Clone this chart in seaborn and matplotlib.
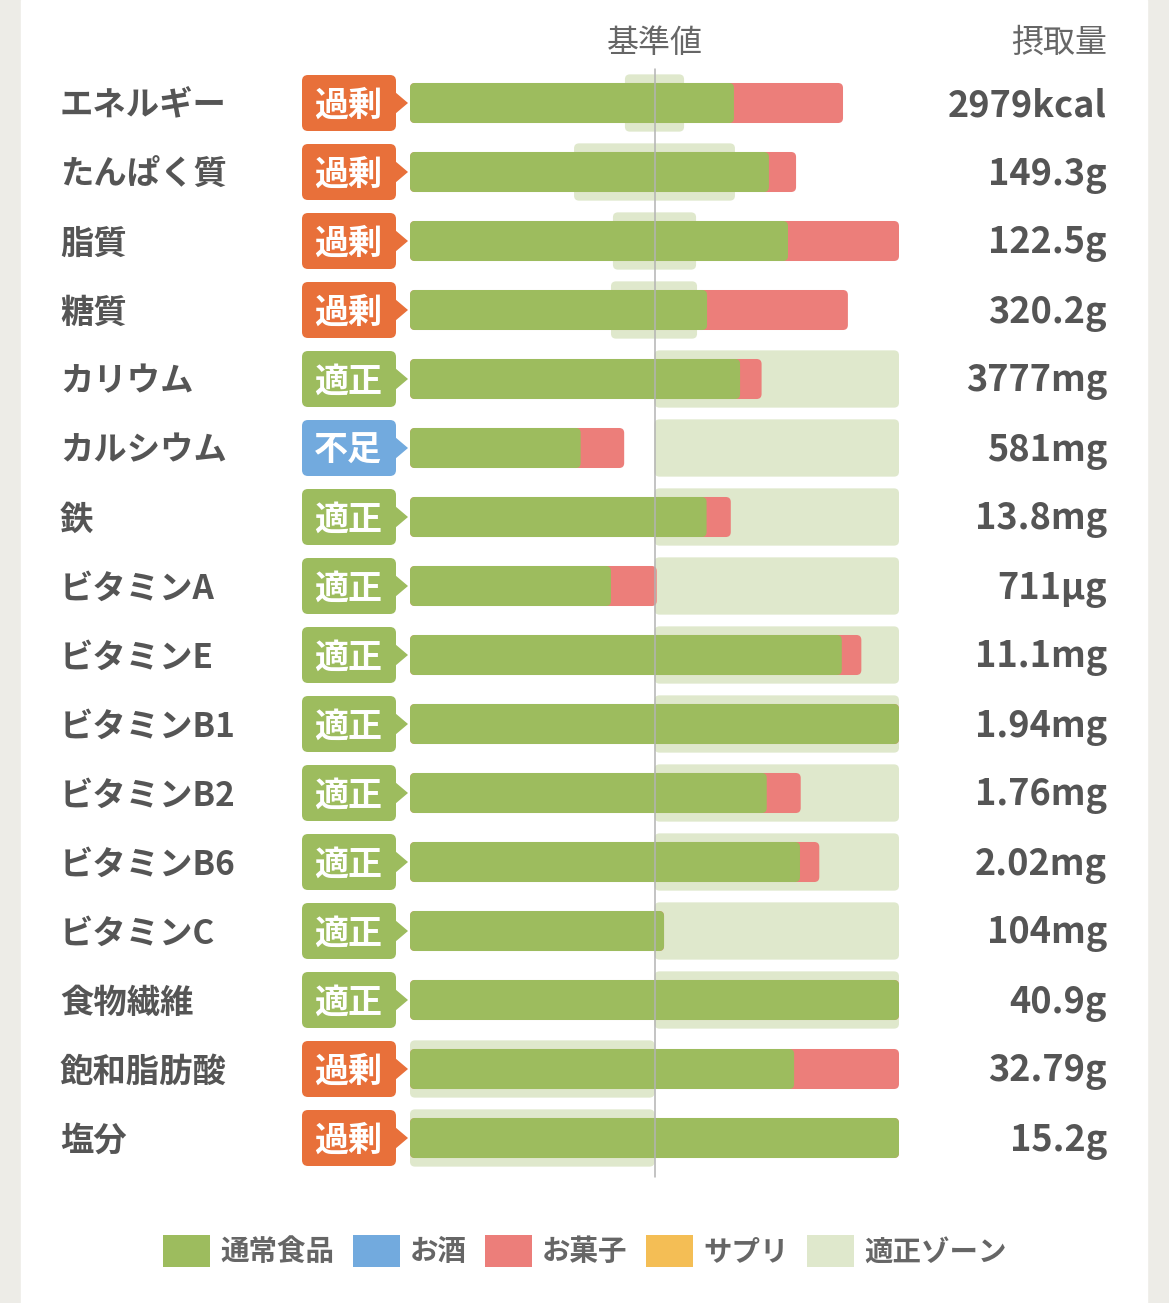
import numpy as np
import seaborn as sns
import matplotlib.pyplot as plt
from matplotlib.patches import FancyBboxPatch, Rectangle, Polygon, Patch
from matplotlib import transforms

# データ（基準値=100%、グラフは200%で頭打ち）
nutrients = ['エネルギー', 'たんぱく質', '脂質', '糖質', 'カリウム', 'カルシウム', '鉄',
             'ビタミンA', 'ビタミンE', 'ビタミンB1', 'ビタミンB2', 'ビタミンB6',
             'ビタミンC', '食物繊維', '飽和脂肪酸', '塩分']
status = ['過剰', '過剰', '過剰', '過剰', '適正', '不足', '適正', '適正', '適正',
          '適正', '適正', '適正', '適正', '適正', '過剰', '過剰']
intake = ['2979kcal', '149.3g', '122.5g', '320.2g', '3777mg', '581mg', '13.8mg',
          '711µg', '11.1mg', '1.94mg', '1.76mg', '2.02mg', '104mg', '40.9g',
          '32.79g', '15.2g']
food = [132.5, 146.8, 154.6, 121.5, 135.0, 69.8, 121.3, 82.2, 176.6, 200.0,
        145.9, 159.5, 103.9, 200.0, 157.1, 200.0]
sweets = [44.6, 11.1, 45.4, 57.6, 8.8, 17.8, 9.9, 18.7, 8.0, 0.0,
          13.9, 7.9, 0.0, 0.0, 42.9, 0.0]
zone_lo = [87.9, 67.1, 83.0, 82.2, 100, 100, 100, 100, 100, 100, 100, 100, 100, 100, 0, 0]
zone_hi = [112.1, 132.9, 117.0, 117.4, 200, 200, 200, 200, 200, 200, 200, 200, 200, 200, 100, 100]

legend_labels = ['通常食品', 'お酒', 'お菓子', 'サプリ', '適正ゾーン']

GREEN = '#9dbc5e'
BLUE = '#72aade'
PINK = '#ec7e7a'
YELLOW = '#f4be55'
ZONE = '#dfe8cc'
ORANGE = '#e8703a'
TEXT = '#555555'
legend_colors = [GREEN, BLUE, PINK, YELLOW, ZONE]
badge_colors = {'過剰': ORANGE, '適正': GREEN, '不足': BLUE}

sns.set_theme(style='white')
plt.rcParams['font.family'] = ['Noto Sans CJK JP', 'DejaVu Sans']

W, H = 1169, 1303
fig = plt.figure(figsize=(W / 100, H / 100), dpi=100, facecolor='#edece7')

# 背景用のオーバーレイ（ピクセル座標）
ov = fig.add_axes([0, 0, 1, 1])
ov.set_xlim(0, W)
ov.set_ylim(H, 0)
ov.axis('off')
ov.add_patch(Rectangle((21, 0), 1126, H, color='white', zorder=0))

# 棒グラフ本体
ax = fig.add_axes([410 / W, (H - 1172.5) / H, 489 / W, 1104 / H])
ax.set_facecolor('none')
total = [f + s for f, s in zip(food, sweets)]
sns.barplot(x=total, y=nutrients, orient='y', color=PINK, saturation=1,
            width=0.58, linewidth=0, errorbar=None, ax=ax)
sns.barplot(x=food, y=nutrients, orient='y', color=GREEN, saturation=1,
            width=0.58, linewidth=0, errorbar=None, ax=ax)
ax.barh(nutrients, [h - l for l, h in zip(zone_lo, zone_hi)], left=zone_lo,
        height=0.83, color=ZONE, zorder=0.5)
ax.set_xlim(0, 200)
ax.set_ylim(len(nutrients) - 0.5, -0.5)
ax.axis('off')
ax.axvline(100, ymin=-0.004, ymax=1, color='#b3b3b3', lw=1.1, clip_on=False, zorder=3)

# 角を丸める
bb = ax.get_window_extent()
xpp = 200 / bb.width
ypp = len(nutrients) / bb.height
for p in list(ax.patches):
    x, y = p.get_xy()
    w, h = p.get_width(), p.get_height()
    if w <= 0:
        p.remove()
        continue
    fb = FancyBboxPatch((x, y), w, h, boxstyle=f'round,pad=0,rounding_size={5 * xpp}',
                        mutation_aspect=ypp / xpp, fc=p.get_facecolor(), ec='none',
                        zorder=p.get_zorder())
    p.remove()
    ax.add_patch(fb)

# ラベル・バッジ・摂取量
tr = transforms.blended_transform_factory(ov.transData, ax.transData)
for i, (name, st, val) in enumerate(zip(nutrients, status, intake)):
    ov.text(60, i + 3 * ypp, name, transform=tr, ha='left', va='center', fontsize=24,
            fontweight='bold', color=TEXT)
    bh = 56 * ypp
    ov.add_patch(FancyBboxPatch((302, i - bh / 2), 94, bh, transform=tr,
                                boxstyle='round,pad=0,rounding_size=6',
                                mutation_aspect=ypp, fc=badge_colors[st], ec='none'))
    ov.add_patch(Polygon([(395, i - 11 * ypp), (408, i), (395, i + 11 * ypp)],
                         closed=True, transform=tr, fc=badge_colors[st], ec='none'))
    ov.text(348, i + 2 * ypp, st, transform=tr, ha='center', va='center', fontsize=24.5,
            fontweight='bold', color='white')
    ov.text(1107, i + 3 * ypp, val, transform=tr, ha='right', va='center', fontsize=26,
            fontweight='bold', color=TEXT)

ov.text(655, 43, '基準値', ha='center', va='center', fontsize=23, color='#666666')
ov.text(1107, 43, '摂取量', ha='right', va='center', fontsize=23, color='#666666')

handles = [Patch(fc=c, ec='none', label=l) for c, l in zip(legend_colors, legend_labels)]
fig.legend(handles=handles, loc='center', bbox_to_anchor=(585 / W, 1 - 1251 / H),
           ncol=5, frameon=False, handlelength=1.65, handleheight=1.4,
           handletextpad=0.35, columnspacing=0.65,
           prop={'size': 20.5, 'weight': 'bold'}, labelcolor='#666666')

fig.savefig('out.png', dpi=100, facecolor=fig.get_facecolor())
